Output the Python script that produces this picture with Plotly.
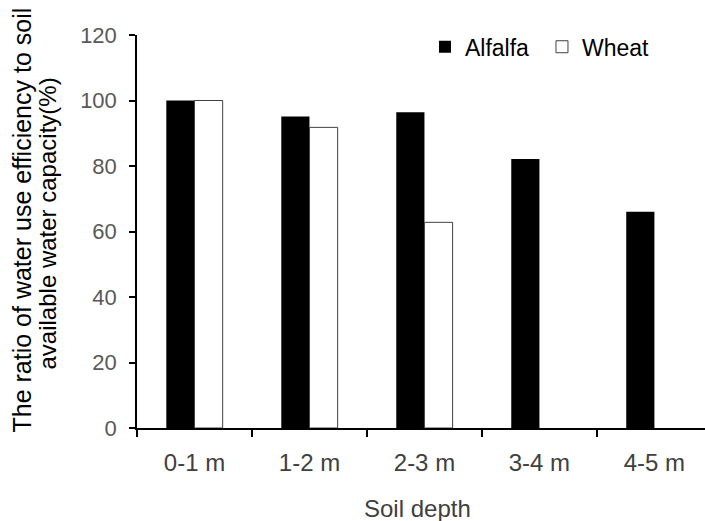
import plotly.graph_objects as go

categories = ["0-1 m", "1-2 m", "2-3 m", "3-4 m", "4-5 m"]
alfalfa = [100, 95.1, 96.4, 82.1, 66.0]
wheat = [100, 91.8, 62.8, None, None]
y_ticks = [0, 20, 40, 60, 80, 100, 120]

fig = go.Figure()
fig.add_trace(go.Bar(x=categories, y=alfalfa, name="Alfalfa",
                     marker=dict(color="black", line=dict(color="black", width=0))))
fig.add_trace(go.Bar(x=categories, y=wheat, name="Wheat",
                     marker=dict(color="white", line=dict(color="#404040", width=1))))

font = "Liberation Sans, Arial, sans-serif"
fig.update_layout(
    width=705, height=521,
    margin=dict(l=137, r=0, t=35, b=93),
    plot_bgcolor="white", paper_bgcolor="white",
    barmode="group", bargap=0.51, bargroupgap=0,
    font=dict(family=font, size=22, color="#595959"),
    showlegend=True,
    legend=dict(orientation="h", x=0.507, y=0.97, xanchor="left", yanchor="middle",
                font=dict(family=font, size=23, color="black"),
                bgcolor="rgba(0,0,0,0)", itemwidth=30, entrywidth=72,
                entrywidthmode="pixels", tracegroupgap=0),
    xaxis=dict(type="category", range=[-0.5, 4.44], showline=True, linecolor="black",
               linewidth=1.5, ticks="outside", tickson="boundaries", ticklen=7,
               tickcolor="black", tickwidth=1.5, showgrid=False, zeroline=False,
               automargin=False, ticklabelstandoff=12,
               tickfont=dict(family=font, size=24, color="#404040")),
    yaxis=dict(range=[0, 120], tickvals=y_ticks, showline=True, linecolor="black",
               linewidth=1.5, ticks="outside", ticklen=6, tickcolor="black",
               tickwidth=1.5, showgrid=False, zeroline=False,
               automargin=False, ticklabelstandoff=8,
               tickfont=dict(family=font, size=22, color="#595959")),
    annotations=[
        dict(text="The ratio of water use efficiency to soil",
             xref="paper", yref="paper", x=0, y=0.5, xanchor="center", yanchor="middle",
             xshift=21 - 137, yshift=11, textangle=-90, showarrow=False,
             font=dict(family=font, size=25, color="black")),
        dict(text="available water capacity(%)",
             xref="paper", yref="paper", x=0, y=0.5, xanchor="center", yanchor="middle",
             xshift=47 - 137, yshift=8, textangle=-90, showarrow=False,
             font=dict(family=font, size=24, color="black")),
        dict(text="Soil depth", xref="paper", yref="paper", x=0, y=0,
             xanchor="center", yanchor="middle", xshift=417 - 137, yshift=-80,
             showarrow=False, font=dict(family=font, size=24, color="#404040")),
    ],
)
fig.write_html("out.html", config={"displayModeBar": False},
               post_script="document.body.style.margin='0';document.body.style.overflow='hidden';")
